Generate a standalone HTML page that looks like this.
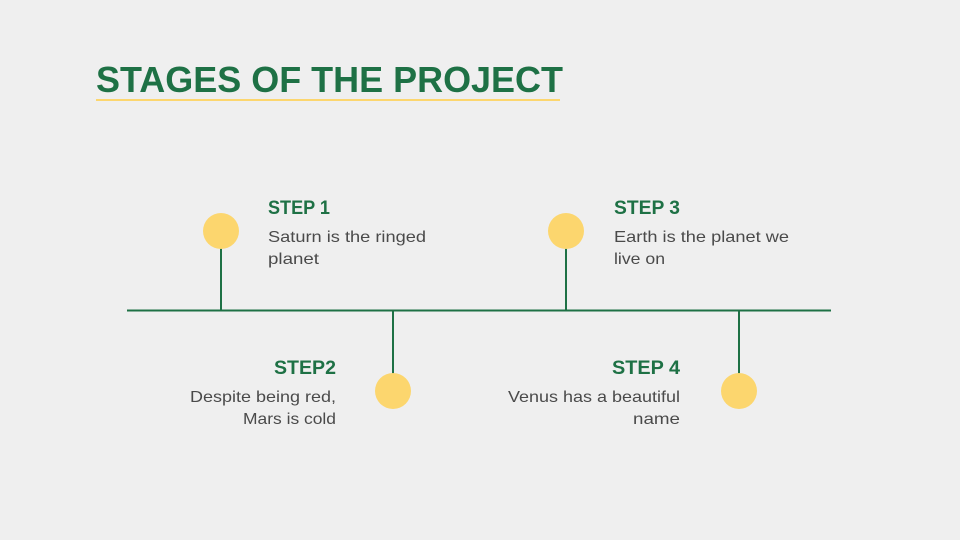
<!DOCTYPE html>
<html><head><meta charset="utf-8"><style>
html,body{margin:0;padding:0;background:#efefef;}
svg{display:block;}
.t{font-family:"Liberation Sans",sans-serif;}
.h{font-weight:bold;fill:#1e7145;font-size:19px;}
.b{fill:#4a4a4a;font-size:16px;}
</style></head><body>
<svg width="960" height="540" viewBox="0 0 960 540" xmlns="http://www.w3.org/2000/svg">
<rect width="960" height="540" fill="#efefef"/>
<text class="t" x="96" y="92" font-size="36" font-weight="bold" fill="#1e7145" textLength="467" lengthAdjust="spacingAndGlyphs">STAGES OF THE PROJECT</text>
<rect x="96" y="99" width="464" height="2" fill="#fcd66e"/>
<g stroke="#1e7145" stroke-width="2">
<line x1="127" y1="310.5" x2="831" y2="310.5"/>
<line x1="221" y1="240" x2="221" y2="310"/>
<line x1="566" y1="240" x2="566" y2="310"/>
<line x1="393" y1="310" x2="393" y2="380"/>
<line x1="739" y1="310" x2="739" y2="380"/>
</g>
<g fill="#fcd66e">
<circle cx="221" cy="231" r="18"/>
<circle cx="566" cy="231" r="18"/>
<circle cx="393" cy="391" r="18"/>
<circle cx="739" cy="391" r="18"/>
</g>
<text class="t h" x="268" y="214" textLength="62" lengthAdjust="spacingAndGlyphs">STEP 1</text>
<text class="t b" x="268" y="242" textLength="158" lengthAdjust="spacingAndGlyphs">Saturn is the ringed</text>
<text class="t b" x="268" y="264" textLength="51" lengthAdjust="spacingAndGlyphs">planet</text>
<text class="t h" x="614" y="214" textLength="66" lengthAdjust="spacingAndGlyphs">STEP 3</text>
<text class="t b" x="614" y="242" textLength="175" lengthAdjust="spacingAndGlyphs">Earth is the planet we</text>
<text class="t b" x="614" y="264" textLength="51" lengthAdjust="spacingAndGlyphs">live on</text>
<text class="t h" x="274" y="374" textLength="62" lengthAdjust="spacingAndGlyphs">STEP2</text>
<text class="t b" x="190" y="402" textLength="146" lengthAdjust="spacingAndGlyphs">Despite being red,</text>
<text class="t b" x="243" y="424" textLength="93" lengthAdjust="spacingAndGlyphs">Mars is cold</text>
<text class="t h" x="612" y="374" textLength="68" lengthAdjust="spacingAndGlyphs">STEP 4</text>
<text class="t b" x="508" y="402" textLength="172" lengthAdjust="spacingAndGlyphs">Venus has a beautiful</text>
<text class="t b" x="633" y="424" textLength="47" lengthAdjust="spacingAndGlyphs">name</text>
</svg>
</body></html>
